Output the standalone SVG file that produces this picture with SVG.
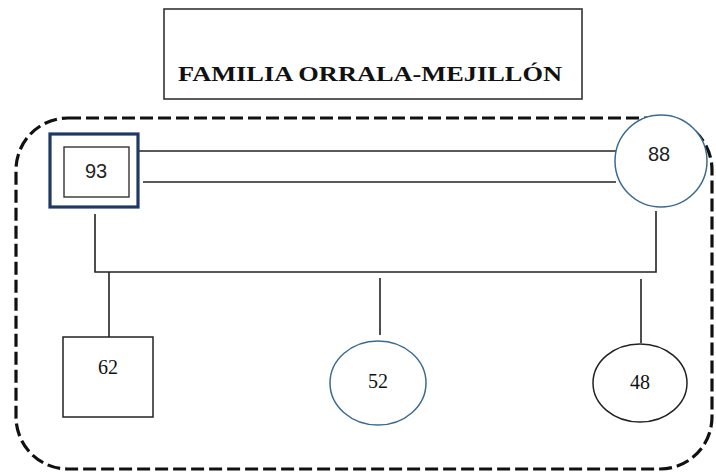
<svg xmlns="http://www.w3.org/2000/svg" width="716" height="473" viewBox="0 0 716 473">
<style>
.line{stroke:#222;stroke-width:1.6;fill:none}
.serif{font-family:"Liberation Serif","Times New Roman",serif;fill:#111}
.sans{font-family:"Liberation Sans",Arial,sans-serif;fill:#222}
</style>
<rect width="716" height="473" fill="#fff"/>
<g id="title">
<rect x="164" y="9" width="418" height="90" fill="#fff" stroke="#333" stroke-width="1.6"/>
<text class="serif" x="370" y="81" font-size="22" font-weight="bold" text-anchor="middle" textLength="384" lengthAdjust="spacingAndGlyphs">FAMILIA ORRALA-MEJILLÓN</text>
</g>
<g id="family-boundary">
<rect x="16" y="118" width="696" height="351" rx="52" ry="52" fill="none" stroke="#111" stroke-width="3.2" stroke-dasharray="13 5"/>
</g>
<g id="connectors">
<line class="line" x1="138" y1="151" x2="616" y2="151"/>
<line class="line" x1="143" y1="182" x2="616" y2="182"/>
<polyline class="line" points="95,214 95,272 656,272 656,211"/>
<line class="line" x1="109" y1="272" x2="109" y2="337"/>
<line class="line" x1="380" y1="278" x2="380" y2="335"/>
<line class="line" x1="641" y1="279" x2="641" y2="343"/>
</g>
<g id="node-93">
<rect x="50" y="134" width="88" height="73" fill="#fff" stroke="#1f3864" stroke-width="3.2"/>
<rect x="64" y="147" width="65" height="50" fill="#fff" stroke="#333" stroke-width="1.4"/>
<text class="sans" x="96" y="178" font-size="20" text-anchor="middle">93</text>
</g>
<g id="node-88">
<circle cx="661" cy="161" r="46" fill="#fff" stroke="#3b6a90" stroke-width="1.5"/>
<text class="sans" x="659" y="161" font-size="20" text-anchor="middle">88</text>
</g>
<g id="node-62">
<rect x="63" y="337" width="90" height="80" fill="#fff" stroke="#222" stroke-width="1.5"/>
<text class="serif" x="108" y="374" font-size="20" text-anchor="middle">62</text>
</g>
<g id="node-52">
<ellipse cx="378" cy="383" rx="48" ry="42" fill="#fff" stroke="#3b6a90" stroke-width="1.5"/>
<text class="serif" x="378" y="388" font-size="20" text-anchor="middle">52</text>
</g>
<g id="node-48">
<ellipse cx="640" cy="383" rx="47" ry="39" fill="#fff" stroke="#222" stroke-width="1.5"/>
<text class="serif" x="640" y="389" font-size="20" text-anchor="middle">48</text>
</g>
</svg>
